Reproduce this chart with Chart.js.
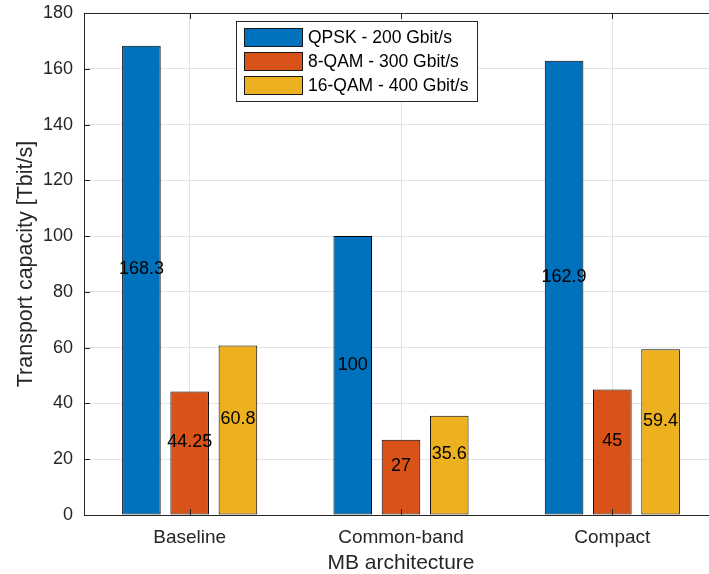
<!DOCTYPE html>
<html>
<head>
<meta charset="utf-8">
<script src="https://cdn.jsdelivr.net/npm/chart.js@4.4.0/dist/chart.umd.min.js"></script>
<style>
  html, body { margin: 0; padding: 0; background: #fff; overflow: hidden; }
  #wrap { width: 724px; height: 574px; position: relative; }
</style>
</head>
<body>
<div id="wrap"><canvas id="chart"></canvas></div>
<script>
const categories = ['Baseline', 'Common-band', 'Compact']
const qpsk = [168.3, 100, 162.9]      // QPSK - 200 Gbit/s
const qam8 = [44.25, 27, 45]          // 8-QAM - 300 Gbit/s
const qam16 = [60.8, 35.6, 59.4]      // 16-QAM - 400 Gbit/s
const seriesNames = ['QPSK - 200 Gbit/s', '8-QAM - 300 Gbit/s', '16-QAM - 400 Gbit/s']
const yTicks = [0, 20, 40, 60, 80, 100, 120, 140, 160, 180]

const FONT = "'Liberation Sans', Arial, Helvetica, sans-serif"
const AXIS_COLOR = '#262626'
const colors = ['#0072BD', '#D95319', '#EDB120']

// inward tick marks, top border line, value labels and the boxed legend
const decorations = {
  id: 'decorations',
  afterDatasetsDraw(chart) {
    const ctx = chart.ctx
    const area = chart.chartArea
    const xs = chart.scales.x
    const ys = chart.scales.y
    ctx.save()

    // top border
    ctx.strokeStyle = AXIS_COLOR
    ctx.lineWidth = 1
    ctx.beginPath()
    ctx.moveTo(area.left, Math.round(area.top) + 0.5)
    ctx.lineTo(area.right + 10, Math.round(area.top) + 0.5)
    ctx.stroke()

    // ticks pointing into the plot
    ctx.beginPath()
    yTicks.forEach(v => {
      const y = Math.round(ys.getPixelForValue(v)) + 0.5
      ctx.moveTo(area.left, y)
      ctx.lineTo(area.left + 6, y)
    })
    categories.forEach((c, i) => {
      const x = Math.round(xs.getPixelForValue(i)) + 0.5
      ctx.moveTo(x, area.bottom)
      ctx.lineTo(x, area.bottom - 6)
      ctx.moveTo(x, area.top)
      ctx.lineTo(x, area.top + 6)
    })
    ctx.stroke()

    // value labels, half way up each bar
    ctx.fillStyle = '#000'
    ctx.font = '18px ' + FONT
    ctx.textAlign = 'center'
    ctx.textBaseline = 'middle'
    chart.data.datasets.forEach((ds, di) => {
      chart.getDatasetMeta(di).data.forEach((bar, i) => {
        const v = ds.data[i]
        const y = ys.getPixelForValue(v / 2) - 11
        ctx.fillText(String(v), bar.x, y)
      })
    })

    // legend
    ctx.fillStyle = '#fff'
    ctx.fillRect(236.5, 21.5, 241, 80)
    ctx.strokeStyle = AXIS_COLOR
    ctx.strokeRect(236.5, 21.5, 241, 80)
    ctx.font = '17.5px ' + FONT
    ctx.textAlign = 'left'
    chart.data.datasets.forEach((ds, di) => {
      const cy = 37.5 + di * 24
      ctx.fillStyle = ds.backgroundColor
      ctx.fillRect(244.5, cy - 9, 58, 18)
      ctx.strokeStyle = '#1a1a1a'
      ctx.strokeRect(244.5, cy - 9, 58, 18)
      ctx.fillStyle = '#000'
      ctx.fillText(ds.label, 308, cy + 1)
    })
    ctx.restore()
  }
}

function noOverhang(s) {
  s.paddingTop = 0
  s.paddingBottom = 0
  s.paddingLeft = 0
  s.paddingRight = 0
}

const ctx = document.getElementById('chart').getContext('2d')
const chart = new Chart(ctx, {
  type: 'bar',
  data: {
    labels: categories,
    datasets: [qpsk, qam8, qam16].map((d, i) => ({
      label: seriesNames[i],
      data: d,
      backgroundColor: colors[i],
      borderColor: '#000',
      borderWidth: 1,
      borderSkipped: false,
      barPercentage: 0.8,
      categoryPercentage: 0.685
    }))
  },
  options: {
    responsive: true,
    maintainAspectRatio: false,
    animation: false,
    devicePixelRatio: 1,
    layout: { padding: { top: 13, right: 6, left: 0, bottom: 0 } },
    plugins: {
      legend: { display: false },
      tooltip: { enabled: false }
    },
    scales: {
      x: {
        offset: true,
        grid: { offset: false, color: '#e3e3e3', drawTicks: false },
        border: { display: true, color: AXIS_COLOR, width: 1 },
        ticks: { color: AXIS_COLOR, padding: 11, font: { family: FONT, size: 19 } },
        title: {
          display: true,
          text: 'MB architecture',
          color: AXIS_COLOR,
          font: { family: FONT, size: 21, lineHeight: 1 },
          padding: { top: 0, bottom: 0 }
        },
        afterFit(s) { s.height = 59; noOverhang(s) }
      },
      y: {
        min: 0,
        max: 180,
        afterBuildTicks(s) { s.ticks = yTicks.map(v => ({ value: v })) },
        grid: { color: '#e3e3e3', drawTicks: false },
        border: { display: true, color: AXIS_COLOR, width: 1 },
        ticks: { color: AXIS_COLOR, padding: 11, font: { family: FONT, size: 18 } },
        title: {
          display: true,
          text: 'Transport capacity [Tbit/s]',
          color: AXIS_COLOR,
          font: { family: FONT, size: 21.5, lineHeight: 1 },
          padding: { top: 15, bottom: 0 }
        },
        afterFit(s) { s.width = 84; noOverhang(s) }
      }
    }
  },
  plugins: [decorations]
})
</script>
</body>
</html>
